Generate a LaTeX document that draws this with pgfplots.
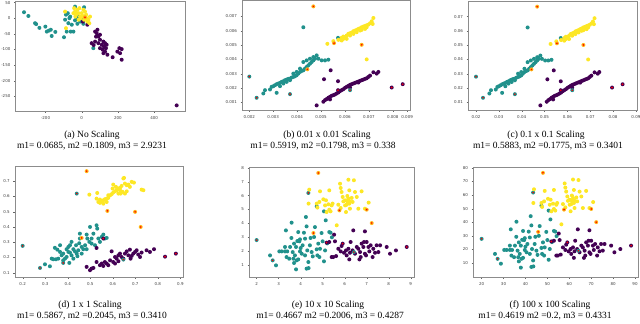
\documentclass[border=0pt]{standalone}
\usepackage{fontspec}
\setmainfont{Liberation Serif}
\setsansfont{DejaVu Sans}
\usepackage{pgfplots}
\usepackage{pgfplotstable}
\pgfplotsset{compat=1.18}

\definecolor{cP}{HTML}{440154}
\definecolor{cT}{HTML}{21918C}
\definecolor{cY}{HTML}{FDE725}
\definecolor{cO}{HTML}{FDB515}

% filled dot with a small red centre (points flagged in red)
\pgfdeclareplotmark{dotred}{%
  \pgfpathcircle{\pgfpointorigin}{\pgfplotmarksize}\pgfusepath{fill}%
  \pgfsetfillcolor{red}%
  \pgfpathcircle{\pgfpointorigin}{0.45\pgfplotmarksize}\pgfusepath{fill}}
\pgfdeclareplotmark{dot}{%
  \pgfpathcircle{\pgfpointorigin}{\pgfplotmarksize}\pgfusepath{fill}}

\newcommand\tickfont{\fontsize{4}{4.5}\selectfont\sffamily}
\newcommand\capfont{\fontsize{9.5}{11}\selectfont}

\pgfplotsset{
  panel/.style={
    scale only axis,
    axis line style={black!45, line width=0.5pt},
    tick pos=left,
    tick align=outside,
    major tick length=1.8pt,
    every tick/.style={black!60, line width=0.3pt},
    ticklabel style={font=\tickfont, text=black!75},
    /pgf/number format/assume math mode=true,
    scaled ticks=false,
  },
  pts/.style={
    scatter, only marks, scatter src=explicit symbolic,
    scatter/classes={
      t={mark=dot, mark size=2pt, cT}, p={mark=dot, mark size=2pt, cP},
      y={mark=dot, mark size=2pt, cY},
      tr={mark=dotred, mark size=2pt, cT}, pr={mark=dotred, mark size=2pt, cP},
      yr={mark=dotred, mark size=2pt, cO}},
  },
}

% (a) no scaling
\pgfplotstableread{
x y c
-319 19 t
-295 7 t
-258 -16 t
-252 -19 t
-234 -31 t
-201 -27 t
-193 -43 t
-182 -40 t
-171 -37 t
-166 -57 t
-146 -44 t
-98 -61 t
-87 11 t
-77 16 t
-68 0 t
-83 -43 t
-61 -43 t
-46 -43 t
-37 -7 t
-24 -18 t
-9 -11 t
2 -5 t
9 -18 t
-37 37 t
13 35 t
-18 5 t
-64 5 t
-92 -5 t
-28 0 t
-55 -21 t
-74 -16 t
64 -96 t
6 -11 p
31 -21 p
74 -43 p
83 -48 p
92 -59 p
79 -59 p
101 -53 p
74 -75 p
92 -80 p
101 -69 p
111 -85 p
120 -75 p
123 -91 p
129 -80 p
134 -96 p
138 -85 p
116 -101 p
101 -96 p
120 -112 p
129 -107 p
142 -117 p
171 -125 p
197 -107 p
208 -96 p
221 -99 p
212 -112 p
221 -133 p
525 -279 p
66 -86 p
55 -80 p
87 -37 p
-92 21 y
-42 32 y
-37 21 y
-31 11 y
-24 27 y
-18 16 y
-13 32 y
-9 5 y
0 16 y
9 27 y
18 21 y
24 11 y
28 0 y
31 -11 y
37 -5 y
42 -16 y
46 5 y
13 -5 y
-6 0 y
-28 16 y
-46 16 y
-35 5 y
6 7 y
-87 -32 y
-17 -5 y
18 3 yr
}\tA

% (b) 0.01 x 0.01 scaling
\pgfplotstableread{
x y c
5.710e-3 5.499e-3 t
4.259e-3 6.238e-3 t
2.000e-3 2.797e-3 tr
2.307e-3 1.319e-3 tr
2.586e-3 1.619e-3 t
2.656e-3 1.850e-3 t
2.865e-3 1.896e-3 t
2.934e-3 2.081e-3 t
3.004e-3 2.127e-3 t
3.074e-3 2.196e-3 t
3.144e-3 2.266e-3 t
3.213e-3 2.312e-3 t
3.283e-3 2.358e-3 t
3.353e-3 2.427e-3 t
3.423e-3 2.473e-3 t
3.492e-3 2.543e-3 t
3.562e-3 2.589e-3 t
3.632e-3 2.635e-3 t
3.702e-3 2.658e-3 t
3.771e-3 2.727e-3 t
3.841e-3 2.774e-3 t
3.911e-3 2.820e-3 t
3.980e-3 2.889e-3 t
4.050e-3 3.005e-3 t
4.120e-3 3.120e-3 t
4.190e-3 3.189e-3 t
4.259e-3 3.236e-3 t
4.329e-3 3.351e-3 t
4.399e-3 3.467e-3 t
4.469e-3 3.582e-3 t
4.538e-3 3.697e-3 t
4.608e-3 3.813e-3 t
4.678e-3 3.928e-3 t
4.748e-3 4.044e-3 t
4.817e-3 4.275e-3 t
4.538e-3 4.044e-3 t
4.678e-3 4.159e-3 t
4.887e-3 4.044e-3 t
5.027e-3 3.928e-3 t
5.166e-3 3.928e-3 t
5.305e-3 3.975e-3 t
4.259e-3 3.813e-3 t
4.399e-3 3.928e-3 t
3.702e-3 1.573e-3 tr
3.144e-3 1.665e-3 t
3.841e-3 3.005e-3 t
3.980e-3 3.120e-3 t
4.120e-3 3.351e-3 t
3.423e-3 2.312e-3 t
3.562e-3 2.427e-3 t
3.702e-3 2.543e-3 t
3.283e-3 2.127e-3 t
4.817e-3 0.787e-3 p
5.096e-3 1.042e-3 p
5.166e-3 1.157e-3 p
5.236e-3 1.226e-3 p
5.305e-3 1.319e-3 p
5.375e-3 1.388e-3 p
5.445e-3 1.457e-3 p
5.515e-3 1.503e-3 p
5.584e-3 1.550e-3 p
5.654e-3 1.619e-3 p
5.724e-3 1.688e-3 p
5.794e-3 1.781e-3 p
5.863e-3 1.850e-3 p
5.933e-3 1.919e-3 p
6.003e-3 2.012e-3 p
6.073e-3 2.081e-3 p
6.142e-3 2.150e-3 p
6.212e-3 2.219e-3 p
6.282e-3 2.266e-3 p
6.351e-3 2.312e-3 p
6.421e-3 2.358e-3 p
6.491e-3 2.404e-3 p
6.561e-3 2.450e-3 p
6.630e-3 2.497e-3 p
6.700e-3 2.543e-3 p
6.770e-3 2.589e-3 p
6.840e-3 2.635e-3 p
6.909e-3 2.681e-3 p
6.979e-3 2.774e-3 p
7.049e-3 2.866e-3 p
7.188e-3 3.097e-3 p
7.397e-3 3.120e-3 p
7.328e-3 3.005e-3 p
5.124e-3 2.612e-3 p
5.403e-3 3.236e-3 p
5.710e-3 2.473e-3 p
7.955e-3 2.035e-3 pr
8.416e-3 2.266e-3 pr
5.710e-3 1.850e-3 pr
5.375e-3 1.203e-3 p
6.212e-3 2.035e-3 p
6.561e-3 2.381e-3 p
6.212e-3 1.850e-3 tr
4.678e-3 7.693e-3 yr
5.264e-3 5.083e-3 y
5.515e-3 5.268e-3 y
5.724e-3 5.360e-3 y
5.863e-3 5.499e-3 y
5.933e-3 5.591e-3 y
6.003e-3 5.545e-3 y
6.073e-3 5.661e-3 y
6.142e-3 5.776e-3 y
6.212e-3 5.822e-3 y
6.282e-3 5.868e-3 y
6.351e-3 5.961e-3 y
6.421e-3 6.007e-3 y
6.491e-3 6.053e-3 y
6.561e-3 6.122e-3 y
6.630e-3 6.169e-3 y
6.700e-3 6.238e-3 y
6.770e-3 6.284e-3 y
6.840e-3 6.330e-3 y
6.909e-3 6.376e-3 y
6.979e-3 6.423e-3 y
7.049e-3 6.515e-3 y
7.119e-3 6.654e-3 y
7.188e-3 6.885e-3 y
7.160e-3 6.469e-3 y
5.863e-3 5.314e-3 y
6.073e-3 5.430e-3 y
6.212e-3 5.661e-3 y
6.491e-3 5.891e-3 y
6.700e-3 6.053e-3 y
6.909e-3 6.238e-3 y
5.933e-3 5.430e-3 y
6.351e-3 5.776e-3 y
6.630e-3 6.007e-3 y
6.840e-3 6.122e-3 y
5.543e-3 5.129e-3 yr
6.700e-3 5.014e-3 yr
6.909e-3 3.998e-3 y
4.427e-3 3.305e-3 yr
}\tB

% (c) 0.1 x 0.1 scaling
\pgfplotstableread{
x y c
5.710e-2 5.499e-2 t
4.259e-2 6.238e-2 t
2.000e-2 2.797e-2 tr
2.307e-2 1.319e-2 tr
2.586e-2 1.619e-2 t
2.656e-2 1.850e-2 t
2.865e-2 1.896e-2 t
2.934e-2 2.081e-2 t
3.004e-2 2.127e-2 t
3.074e-2 2.196e-2 t
3.144e-2 2.266e-2 t
3.213e-2 2.312e-2 t
3.283e-2 2.358e-2 t
3.353e-2 2.427e-2 t
3.423e-2 2.473e-2 t
3.492e-2 2.543e-2 t
3.562e-2 2.589e-2 t
3.632e-2 2.635e-2 t
3.702e-2 2.658e-2 t
3.771e-2 2.727e-2 t
3.841e-2 2.774e-2 t
3.911e-2 2.820e-2 t
3.980e-2 2.889e-2 t
4.050e-2 3.005e-2 t
4.120e-2 3.120e-2 t
4.190e-2 3.189e-2 t
4.259e-2 3.236e-2 t
4.329e-2 3.351e-2 t
4.399e-2 3.467e-2 t
4.469e-2 3.582e-2 t
4.538e-2 3.697e-2 t
4.608e-2 3.813e-2 t
4.678e-2 3.928e-2 t
4.748e-2 4.044e-2 t
4.817e-2 4.275e-2 t
4.538e-2 4.044e-2 t
4.678e-2 4.159e-2 t
4.887e-2 4.044e-2 t
5.027e-2 3.928e-2 t
5.166e-2 3.928e-2 t
5.305e-2 3.975e-2 t
4.259e-2 3.813e-2 t
4.399e-2 3.928e-2 t
3.702e-2 1.573e-2 tr
3.144e-2 1.665e-2 t
3.841e-2 3.005e-2 t
3.980e-2 3.120e-2 t
4.120e-2 3.351e-2 t
3.423e-2 2.312e-2 t
3.562e-2 2.427e-2 t
3.702e-2 2.543e-2 t
3.283e-2 2.127e-2 t
4.817e-2 0.787e-2 p
5.096e-2 1.042e-2 p
5.166e-2 1.157e-2 p
5.236e-2 1.226e-2 p
5.305e-2 1.319e-2 p
5.375e-2 1.388e-2 p
5.445e-2 1.457e-2 p
5.515e-2 1.503e-2 p
5.584e-2 1.550e-2 p
5.654e-2 1.619e-2 p
5.724e-2 1.688e-2 p
5.794e-2 1.781e-2 p
5.863e-2 1.850e-2 p
5.933e-2 1.919e-2 p
6.003e-2 2.012e-2 p
6.073e-2 2.081e-2 p
6.142e-2 2.150e-2 p
6.212e-2 2.219e-2 p
6.282e-2 2.266e-2 p
6.351e-2 2.312e-2 p
6.421e-2 2.358e-2 p
6.491e-2 2.404e-2 p
6.561e-2 2.450e-2 p
6.630e-2 2.497e-2 p
6.700e-2 2.543e-2 p
6.770e-2 2.589e-2 p
6.840e-2 2.635e-2 p
6.909e-2 2.681e-2 p
6.979e-2 2.774e-2 p
7.049e-2 2.866e-2 p
7.188e-2 3.097e-2 p
7.397e-2 3.120e-2 p
7.328e-2 3.005e-2 p
5.124e-2 2.612e-2 p
5.403e-2 3.236e-2 p
5.710e-2 2.473e-2 p
7.955e-2 2.035e-2 pr
8.416e-2 2.266e-2 pr
5.710e-2 1.850e-2 pr
5.375e-2 1.203e-2 p
6.212e-2 2.035e-2 p
6.561e-2 2.381e-2 p
6.212e-2 1.850e-2 tr
4.678e-2 7.693e-2 yr
5.264e-2 5.083e-2 y
5.515e-2 5.268e-2 y
5.724e-2 5.360e-2 y
5.863e-2 5.499e-2 y
5.933e-2 5.591e-2 y
6.003e-2 5.545e-2 y
6.073e-2 5.661e-2 y
6.142e-2 5.776e-2 y
6.212e-2 5.822e-2 y
6.282e-2 5.868e-2 y
6.351e-2 5.961e-2 y
6.421e-2 6.007e-2 y
6.491e-2 6.053e-2 y
6.561e-2 6.122e-2 y
6.630e-2 6.169e-2 y
6.700e-2 6.238e-2 y
6.770e-2 6.284e-2 y
6.840e-2 6.330e-2 y
6.909e-2 6.376e-2 y
6.979e-2 6.423e-2 y
7.049e-2 6.515e-2 y
7.119e-2 6.654e-2 y
7.188e-2 6.885e-2 y
7.160e-2 6.469e-2 y
5.863e-2 5.314e-2 y
6.073e-2 5.430e-2 y
6.212e-2 5.661e-2 y
6.491e-2 5.891e-2 y
6.700e-2 6.053e-2 y
6.909e-2 6.238e-2 y
5.933e-2 5.430e-2 y
6.351e-2 5.776e-2 y
6.630e-2 6.007e-2 y
6.840e-2 6.122e-2 y
5.543e-2 5.129e-2 yr
6.700e-2 5.014e-2 yr
6.909e-2 3.998e-2 y
4.427e-2 3.305e-2 yr
}\tC

% (d) 1 x 1 scaling
\pgfplotstableread{
x y c
0.200 0.276 tr
0.277 0.131 tr
0.299 0.155 t
0.321 0.142 t
0.336 0.188 t
0.348 0.188 t
0.358 0.192 t
0.366 0.236 t
0.373 0.214 t
0.380 0.225 t
0.380 0.181 t
0.388 0.192 t
0.395 0.203 t
0.395 0.254 t
0.403 0.269 t
0.403 0.236 t
0.410 0.232 t
0.410 0.280 t
0.417 0.214 t
0.417 0.302 t
0.425 0.254 t
0.425 0.192 t
0.432 0.240 t
0.437 0.280 t
0.440 0.225 t
0.443 0.208 t
0.447 0.247 t
0.451 0.293 t
0.454 0.324 t
0.454 0.356 t
0.462 0.269 t
0.462 0.225 t
0.469 0.254 t
0.477 0.280 t
0.484 0.254 t
0.487 0.324 t
0.496 0.302 t
0.499 0.400 t
0.506 0.291 t
0.514 0.356 t
0.521 0.280 t
0.528 0.411 t
0.531 0.389 t
0.536 0.324 t
0.543 0.302 t
0.551 0.335 t
0.558 0.350 t
0.565 0.324 t
0.573 0.328 t
0.343 0.263 t
0.354 0.251 t
0.366 0.280 t
0.329 0.192 t
0.407 0.164 t
0.380 0.164 tr
0.484 0.350 t
0.506 0.324 t
0.440 0.619 tr
0.558 0.324 pr
0.528 0.262 p
0.484 0.138 p
0.499 0.116 p
0.506 0.127 p
0.514 0.131 p
0.528 0.170 p
0.543 0.149 p
0.551 0.160 p
0.558 0.144 p
0.565 0.170 p
0.573 0.160 p
0.580 0.149 p
0.588 0.181 p
0.595 0.240 p
0.602 0.170 p
0.610 0.160 p
0.617 0.192 p
0.625 0.175 p
0.632 0.225 p
0.639 0.203 p
0.647 0.192 p
0.654 0.225 p
0.662 0.240 p
0.669 0.214 p
0.676 0.251 p
0.684 0.210 p
0.691 0.225 p
0.699 0.236 p
0.706 0.247 p
0.713 0.219 p
0.721 0.203 p
0.728 0.232 p
0.750 0.247 p
0.765 0.236 p
0.783 0.254 p
0.832 0.205 pr
0.880 0.225 pr
0.679 0.192 p
0.625 0.214 p
0.610 0.203 p
0.647 0.186 tr
0.484 0.766 yr
0.496 0.612 y
0.531 0.623 y
0.528 0.586 y
0.536 0.564 y
0.543 0.558 y
0.551 0.569 y
0.558 0.575 y
0.565 0.582 y
0.573 0.586 y
0.580 0.591 y
0.588 0.608 y
0.595 0.615 y
0.602 0.626 y
0.610 0.634 y
0.617 0.641 y
0.625 0.652 y
0.632 0.656 y
0.639 0.669 y
0.647 0.718 y
0.650 0.722 y
0.654 0.685 y
0.662 0.674 y
0.669 0.678 y
0.676 0.663 y
0.684 0.696 y
0.602 0.678 y
0.614 0.663 y
0.625 0.619 y
0.635 0.619 y
0.644 0.630 y
0.654 0.619 y
0.662 0.634 y
0.599 0.652 y
0.573 0.564 y
0.543 0.580 y
0.580 0.608 y
0.736 0.641 y
0.728 0.645 y
0.694 0.691 y
0.558 0.553 y
0.632 0.641 y
0.576 0.505 yr
0.699 0.499 yr
0.724 0.400 yr
0.462 0.328 yr
}\tD

% (e) 10 x 10 scaling
\pgfplotstableread{
x y c
4.35 6.19 tr
4.73 5.22 t
5.06 4.86 t
5.14 4.21 t
2.00 2.78 tr
2.61 1.67 t
2.73 1.31 tr
2.88 0.95 t
3.03 1.96 t
3.29 1.96 t
3.39 1.96 t
3.52 2.28 t
3.58 2.93 t
3.59 4.04 t
3.64 1.91 t
3.70 2.52 t
3.74 1.67 t
3.79 2.28 t
3.82 1.31 t
3.85 2.71 t
3.89 1.38 t
3.94 2.69 t
3.97 1.96 t
4.00 2.20 t
4.05 1.79 t
4.09 2.40 t
4.15 3.31 t
4.20 2.88 t
4.20 1.67 t
4.24 4.45 t
4.27 3.77 t
4.30 2.03 t
4.35 1.19 t
4.36 0.75 t
4.42 2.40 t
4.45 2.93 t
4.50 1.91 t
4.55 1.60 t
4.61 3.00 t
4.65 3.72 t
4.73 2.11 t
4.76 1.67 t
4.80 2.52 t
4.85 1.55 t
4.88 2.15 t
4.95 3.29 t
5.00 2.69 t
5.06 1.24 t
5.11 2.03 t
5.21 2.54 t
5.30 3.36 t
5.36 3.31 t
5.42 2.98 t
3.33 3.48 t
3.29 2.28 t
3.48 1.43 t
3.67 1.43 t
3.89 3.36 t
3.79 0.66 t
3.97 2.83 t
3.70 1.12 t
3.36 1.55 t
3.14 1.96 t
4.27 0.71 t
5.18 2.59 pr
5.30 2.64 p
5.52 3.17 p
5.56 2.69 p
5.41 1.55 p
5.48 1.55 p
5.61 1.62 p
5.71 2.15 p
5.82 1.96 p
5.86 2.35 p
5.91 2.52 pr
5.97 1.86 p
6.06 2.03 p
6.09 1.67 p
6.17 2.15 p
6.21 1.38 p
6.24 1.86 p
6.36 2.03 p
6.39 3.48 p
6.47 1.79 p
6.55 2.28 p
6.62 2.15 p
6.67 1.38 p
6.70 1.91 p
6.73 1.55 p
6.77 2.52 p
6.85 2.28 p
6.88 2.64 p
6.92 3.41 p
6.92 1.79 p
6.97 1.67 p
7.00 2.64 p
7.08 2.28 p
7.12 1.96 p
7.18 2.40 p
7.27 1.55 p
7.30 2.15 p
7.38 1.86 p
7.45 2.40 p
7.53 1.91 p
7.61 2.40 p
7.91 2.28 p
8.06 1.79 p
8.33 2.03 p
8.82 2.28 pr
6.27 2.64 p
6.42 1.91 tr
4.80 7.64 yr
4.39 6.43 y
4.88 6.31 y
5.30 6.38 y
4.73 5.42 y
4.76 5.13 y
4.85 5.54 y
5.03 5.73 y
5.11 5.29 y
5.18 4.81 y
5.26 5.37 y
5.30 4.98 y
5.36 4.86 y
5.41 5.29 y
5.45 5.42 y
5.79 6.86 y
5.82 6.55 y
5.86 6.26 y
5.91 5.90 y
5.94 5.58 y
6.02 5.29 y
6.06 4.81 y
6.12 5.58 y
6.17 7.15 y
6.21 6.38 y
6.24 5.05 y
6.32 5.83 y
6.36 5.54 y
6.42 7.11 y
6.47 6.26 y
6.55 5.90 y
6.62 5.05 y
6.77 6.31 y
6.92 5.05 y
7.09 5.49 y
5.64 3.85 y
5.15 5.66 y
4.36 5.42 y
5.71 5.34 y
5.82 5.10 y
6.17 5.78 y
6.21 5.42 y
6.12 5.97 y
6.09 5.34 y
6.24 5.58 y
6.02 5.66 y
7.00 4.98 yr
7.23 4.01 yr
5.76 4.93 yr
4.58 3.29 yr
}\tE

% (f) 100 x 100 scaling
\pgfplotstableread{
x y c
43.5 61.9 tr
47.3 52.2 t
50.6 48.6 t
51.4 42.1 t
20.0 27.8 tr
26.1 16.7 t
27.3 13.1 tr
28.8 9.5 t
30.3 19.6 t
32.9 19.6 t
33.9 19.6 t
35.2 22.8 t
35.8 29.3 t
35.9 40.4 t
36.4 19.1 t
37.0 25.2 t
37.4 16.7 t
37.9 22.8 t
38.2 13.1 t
38.5 27.1 t
38.9 13.8 t
39.4 26.9 t
39.7 19.6 t
40.0 22.0 t
40.5 17.9 t
40.9 24.0 t
41.5 33.1 t
42.0 28.8 t
42.0 16.7 t
42.4 44.5 t
42.7 37.7 t
43.0 20.3 t
43.5 11.9 t
43.6 7.5 t
44.2 24.0 t
44.5 29.3 t
45.0 19.1 t
45.5 16.0 t
46.1 30.0 t
46.5 37.2 t
47.3 21.1 t
47.6 16.7 t
48.0 25.2 t
48.5 15.5 t
48.8 21.5 t
49.5 32.9 t
50.0 26.9 t
50.6 12.4 t
51.1 20.3 t
52.1 25.4 t
53.0 33.6 t
53.6 33.1 t
54.2 29.8 t
33.3 34.8 t
32.9 22.8 t
34.8 14.3 t
36.7 14.3 t
38.9 33.6 t
37.9 6.6 t
39.7 28.3 t
37.0 11.2 t
33.6 15.5 t
31.4 19.6 t
42.7 7.1 t
51.8 25.9 pr
53.0 26.4 p
55.2 31.7 p
55.6 26.9 p
54.1 15.5 p
54.8 15.5 p
56.1 16.2 p
57.1 21.5 p
58.2 19.6 p
58.6 23.5 p
59.1 25.2 pr
59.7 18.6 p
60.6 20.3 p
60.9 16.7 p
61.7 21.5 p
62.1 13.8 p
62.4 18.6 p
63.6 20.3 p
63.9 34.8 p
64.7 17.9 p
65.5 22.8 p
66.2 21.5 p
66.7 13.8 p
67.0 19.1 p
67.3 15.5 p
67.7 25.2 p
68.5 22.8 p
68.8 26.4 p
69.2 34.1 p
69.2 17.9 p
69.7 16.7 p
70.0 26.4 p
70.8 22.8 p
71.2 19.6 p
71.8 24.0 p
72.7 15.5 p
73.0 21.5 p
73.8 18.6 p
74.5 24.0 p
75.3 19.1 p
76.1 24.0 p
79.1 22.8 p
80.6 17.9 p
83.3 20.3 p
88.2 22.8 pr
62.7 26.4 p
64.2 19.1 tr
48.0 76.4 yr
43.9 64.3 y
48.8 63.1 y
53.0 63.8 y
47.3 54.2 y
47.6 51.3 y
48.5 55.4 y
50.3 57.3 y
51.1 52.9 y
51.8 48.1 y
52.6 53.7 y
53.0 49.8 y
53.6 48.6 y
54.1 52.9 y
54.5 54.2 y
57.9 68.6 y
58.2 65.5 y
58.6 62.6 y
59.1 59.0 y
59.4 55.8 y
60.2 52.9 y
60.6 48.1 y
61.2 55.8 y
61.7 71.5 y
62.1 63.8 y
62.4 50.5 y
63.2 58.3 y
63.6 55.4 y
64.2 71.1 y
64.7 62.6 y
65.5 59.0 y
66.2 50.5 y
67.7 63.1 y
69.2 50.5 y
70.9 54.9 y
56.4 38.5 y
51.5 56.6 y
43.6 54.2 y
57.1 53.4 y
58.2 51.0 y
61.7 57.8 y
62.1 54.2 y
61.2 59.7 y
60.9 53.4 y
62.4 55.8 y
60.2 56.6 y
70.0 49.8 yr
72.3 40.1 yr
57.6 49.3 yr
45.8 32.9 yr
}\tF

\begin{document}
\begin{tikzpicture}
\path[use as bounding box] (0pt,0pt) rectangle (640pt,324pt);

% (a)
\begin{axis}[panel, at={(15.7pt,213pt)}, anchor=south west,
  width=169.3pt, height=109.7pt,
  xmin=-365, xmax=571, ymin=-297, ymax=54,
  xtick={-200,0,200,400}, ytick={-250,-200,-150,-100,-50,0,50}]
\addplot[pts] table[x=x, y=y, meta=c] {\tA};
\end{axis}

% (b)
\begin{axis}[panel, at={(242.3pt,214pt)}, anchor=south west,
  width=167.7pt, height=109.3pt,
  xmin=0.001707, xmax=0.00872, ymin=0.000466, ymax=0.00809,
  xtick={0.002,0.003,0.004,0.005,0.006,0.007,0.008,0.0086},
  xticklabels={0.002,0.003,0.004,0.005,0.006,0.007,0.008,0.009},
  ytick={0.001,0.002,0.003,0.004,0.005,0.006,0.007},
  yticklabel style={/pgf/number format/.cd, fixed, fixed zerofill, precision=3}]
\addplot[pts] table[x=x, y=y, meta=c] {\tB};
\end{axis}

% (c)
\begin{axis}[panel, at={(468.3pt,214pt)}, anchor=south west,
  width=169pt, height=109pt,
  xmin=0.01663, xmax=0.0906, ymin=0.00466, ymax=0.0809,
  xtick={0.02,0.03,0.04,0.05,0.06,0.07,0.08,0.09},
  ytick={0.01,0.02,0.03,0.04,0.05,0.06,0.07},
  ticklabel style={/pgf/number format/.cd, fixed, fixed zerofill, precision=2}]
\addplot[pts] table[x=x, y=y, meta=c] {\tC};
\end{axis}

% (d)
\begin{axis}[panel, at={(15pt,47pt)}, anchor=south west,
  width=168.3pt, height=111pt,
  xmin=0.166, xmax=0.913, ymin=0.0716, ymax=0.80,
  xtick={0.2,0.3,0.4,0.5,0.6,0.7,0.8,0.9},
  ytick={0.1,0.2,0.3,0.4,0.5,0.6,0.7},
  ticklabel style={/pgf/number format/.cd, fixed, fixed zerofill, precision=1}]
\addplot[pts] table[x=x, y=y, meta=c] {\tD};
\end{axis}

% (e)
\begin{axis}[panel, at={(249.3pt,47pt)}, anchor=south west,
  width=164.7pt, height=110pt,
  xmin=1.667, xmax=9.15, ymin=0.106, ymax=8.07,
  xtick={2,3,4,5,6,7,8,9}, ytick={1,2,3,4,5,6,7,8}]
\addplot[pts] table[x=x, y=y, meta=c] {\tE};
\end{axis}

% (f)
\begin{axis}[panel, at={(473.3pt,47pt)}, anchor=south west,
  width=165pt, height=110pt,
  xmin=16.2, xmax=91.5, ymin=-0.3, ymax=80.7,
  xtick={20,30,40,50,60,70,80,90}, ytick={10,20,30,40,50,60,70,80}]
\addplot[pts] table[x=x, y=y, meta=c] {\tF};
\end{axis}

% captions
\node[font=\capfont] at (92pt,189pt) {(a) No Scaling};
\node[font=\capfont] at (92pt,177.5pt) {m1= 0.0685, m2 =0.1809, m3 = 2.9231};
\node[font=\capfont] at (327pt,189pt) {(b) 0.01 x 0.01 Scaling};
\node[font=\capfont] at (323pt,177.5pt) {m1= 0.5919, m2 =0.1798, m3 = 0.338};
\node[font=\capfont] at (546pt,189pt) {(c) 0.1 x 0.1 Scaling};
\node[font=\capfont] at (548pt,177.5pt) {m1= 0.5883, m2 =0.1775, m3 = 0.3401};
\node[font=\capfont] at (90pt,19pt) {(d) 1 x 1 Scaling};
\node[font=\capfont] at (92pt,8pt) {m1= 0.5867, m2 =0.2045, m3 = 0.3410};
\node[font=\capfont] at (328pt,19pt) {(e) 10 x 10 Scaling};
\node[font=\capfont] at (330pt,8pt) {m1= 0.4667 m2 =0.2006, m3 = 0.4287};
\node[font=\capfont] at (550pt,19pt) {(f) 100 x 100 Scaling};
\node[font=\capfont] at (545pt,8pt) {m1= 0.4619 m2 =0.2, m3 = 0.4331};
\end{tikzpicture}
\end{document}
